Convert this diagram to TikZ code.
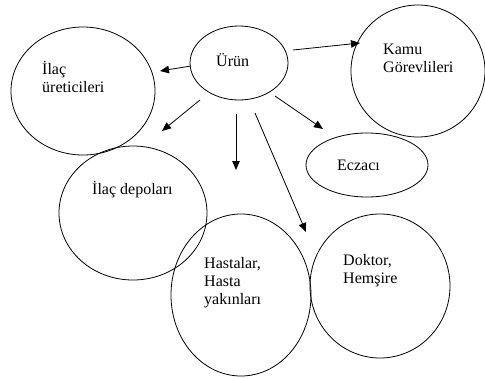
\documentclass[tikz,border=0pt]{standalone}
\usepackage{fontspec}
\setmainfont{Liberation Serif}
\usetikzlibrary{shapes.geometric,arrows.meta}
\tikzset{
  bubble/.style={ellipse, draw, line width=0.8pt, inner sep=0pt},
  lbl/.style={anchor=base west, align=left, inner sep=0pt, font=\fontsize{16}{18}\selectfont},
  arr/.style={line width=0.8pt, -{Triangle[length=9pt,width=7.5pt]}}
}
\begin{document}
\begin{tikzpicture}[x=1pt,y=-1pt]
\useasboundingbox (0,0) rectangle (485,378);
% ellipses
\node[bubble, minimum width=98pt, minimum height=74pt] (urun) at (239,63) {};
\node[bubble, minimum width=144pt, minimum height=128pt] (uret) at (83,91) {};
\node[bubble, minimum width=134pt, minimum height=132pt] (kamu) at (418,71) {};
\node[bubble, minimum width=122pt, minimum height=64pt] (ecz) at (367,165) {};
\node[bubble, minimum width=148pt, minimum height=134pt] (depo) at (133,213) {};
\node[bubble, minimum width=140pt, minimum height=162pt] (hasta) at (241,295) {};
\node[bubble, minimum width=140pt, minimum height=144pt] (dok) at (380,286) {};
% labels (base anchor = baseline of last line)
\node[lbl] (turun) at (216,66) {Ürün};
\node[lbl] (turet) at (42,92) {İlaç\\üreticileri};
\node[lbl] (tkamu) at (383,72) {Kamu\\Görevlileri};
\node[lbl] (tecz) at (337,170) {Eczacı};
\node[lbl] (tdepo) at (92,194) {İlaç depoları};
\node[lbl] (thasta) at (204,304) {Hastalar,\\Hasta\\yakınları};
\node[lbl] (tdok) at (343,283) {Doktor,\\Hemşire};
% arrow ends
\coordinate (a1s) at (191,66);  \coordinate (a1e) at (160,71);
\coordinate (a2s) at (293,50);  \coordinate (a2e) at (360,43);
\coordinate (a3s) at (200,100); \coordinate (a3e) at (162,131);
\coordinate (a4s) at (236,114); \coordinate (a4e) at (236,170);
\coordinate (a5s) at (255,113); \coordinate (a5e) at (306,232);
\coordinate (a6s) at (275,96);  \coordinate (a6e) at (323,129);
\draw[arr] (a1s) -- (a1e);
\draw[arr] (a2s) -- (a2e);
\draw[arr] (a3s) -- (a3e);
\draw[arr] (a4s) -- (a4e);
\draw[arr] (a5s) -- (a5e);
\draw[arr] (a6s) -- (a6e);
\end{tikzpicture}
\end{document}
